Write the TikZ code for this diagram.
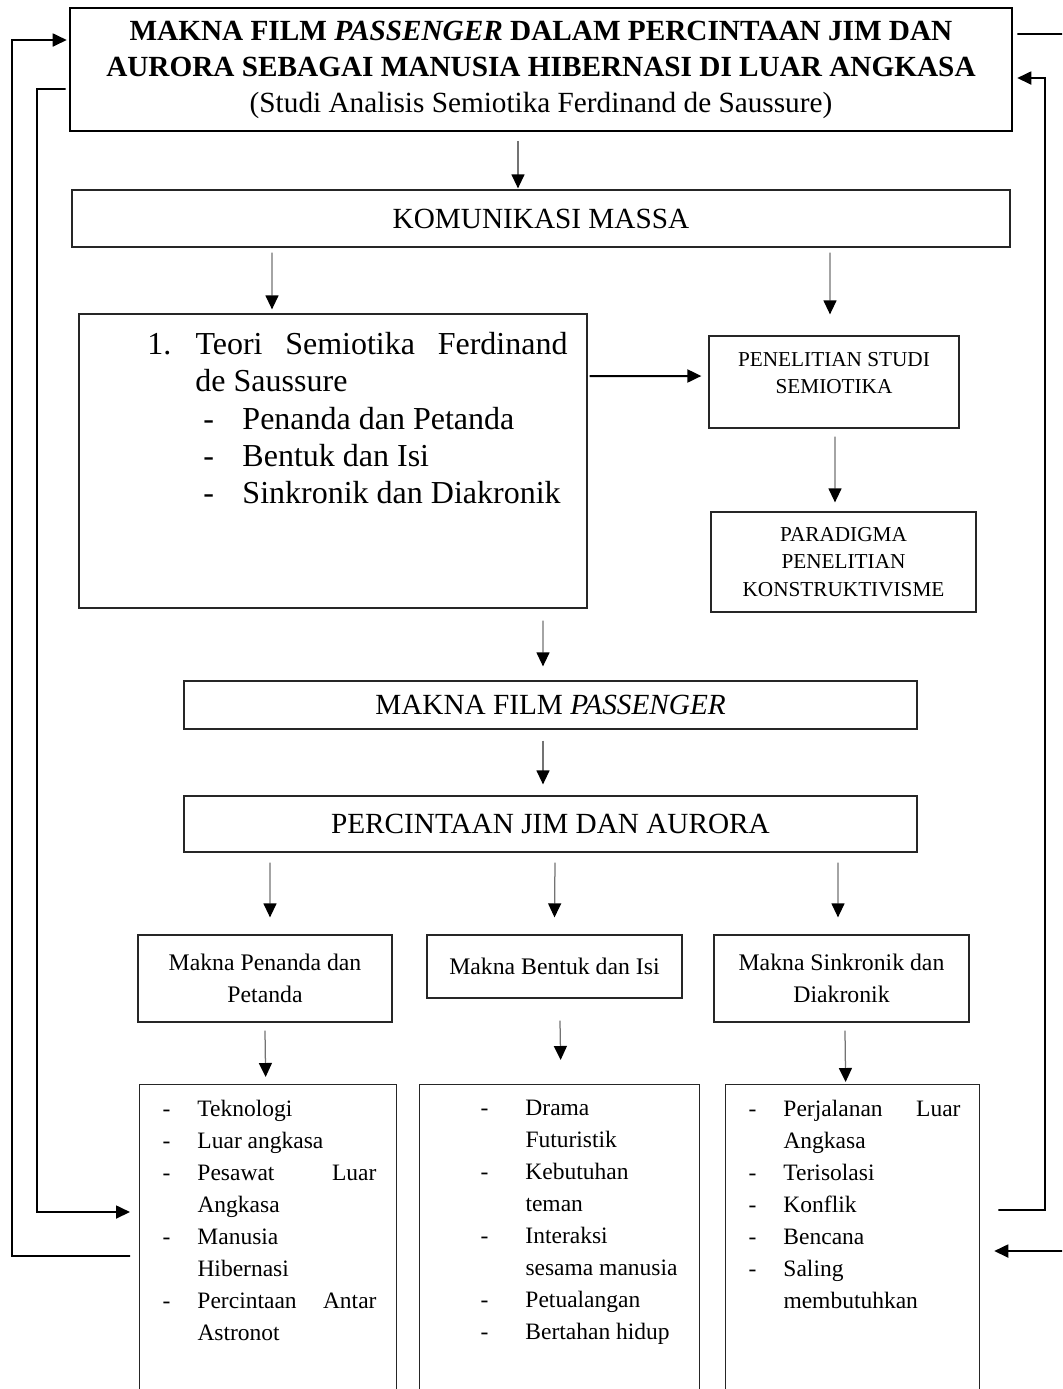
\documentclass[tikz,border=0pt]{standalone}
\usepackage{fontspec}
\setmainfont{Liberation Serif}
\usepackage{tikz}
\usetikzlibrary{positioning,arrows.meta}

\newcommand{\butir}[2][14pt]{\makebox[#1][l]{-}#2}

\begin{document}
\begin{tikzpicture}[
		x=0.4pt, y=-0.4pt,
		>={Triangle[length=5.6pt, width=5.2pt, color=black, fill=black]},
		kotak/.style = {draw=black!85, line width=0.5pt, rectangle, inner sep=0pt, align=center},
		teks/.style = {inner sep=0pt, align=left, anchor=north west},
		panah/.style = {draw=black!55, line width=0.5pt, ->},
		balik/.style = {draw=black, line width=0.7pt, ->},
		besar/.style = {font=\fontsize{11.7pt}{14.4pt}\selectfont},
		sedang/.style = {font=\fontsize{9.5pt}{12.8pt}\selectfont},
		kecil/.style = {font=\fontsize{8.5pt}{11pt}\selectfont},
		daftar/.style = {teks, font=\fontsize{9.4pt}{12.8pt}\selectfont}
	]

	\useasboundingbox (0,0) rectangle (1062,1389);
	\clip (0,0) rectangle (1062,1389);

	% Kotak
	\node [kotak, besar, line width=1pt, draw=black, minimum width=376.8pt, minimum height=49.2pt] (judul) at (541,69.5) {\textbf{MAKNA FILM \textit{PASSENGER} DALAM PERCINTAAN JIM DAN}\\ \textbf{AURORA SEBAGAI MANUSIA HIBERNASI DI LUAR ANGKASA}\\ (Studi Analisis Semiotika Ferdinand de Saussure)};
	\node [kotak, besar, minimum width=375.2pt, minimum height=22.8pt] (komunikasi) at (541,218.5) {KOMUNIKASI MASSA};
	\node [kotak, minimum width=203.2pt, minimum height=117.6pt] (teori) at (333,461) {};
	\node [teks, font=\fontsize{12.8pt}{14.9pt}\selectfont] (teoriisi) at (147,332) {\makebox[19.2pt][l]{1.}\makebox[148.8pt][s]{Teori Semiotika Ferdinand}\\
		\hspace*{19.2pt}de Saussure\\
		\hspace*{22.4pt}\butir[15.6pt]{Penanda dan Petanda}\\
		\hspace*{22.4pt}\butir[15.6pt]{Bentuk dan Isi}\\
		\hspace*{22.4pt}\butir[15.6pt]{Sinkronik dan Diakronik}};
	\node [kotak, minimum width=100pt, minimum height=36.8pt] (penelitian) at (834,382) {};
	\node [kecil, align=center, inner sep=0pt] (penelitianisi) at (834,373) {PENELITIAN STUDI\\SEMIOTIKA};
	\node [kotak, kecil, minimum width=106pt, minimum height=40pt] (paradigma) at (843.5,562) {PARADIGMA\\PENELITIAN\\KONSTRUKTIVISME};
	\node [kotak, besar, minimum width=293.2pt, minimum height=19.2pt] (maknafilm) at (550.5,705) {MAKNA FILM \textit{PASSENGER}};
	\node [kotak, besar, minimum width=293.2pt, minimum height=22.4pt] (percintaan) at (550.5,824) {PERCINTAAN JIM DAN AURORA};
	\node [kotak, sedang, minimum width=101.6pt, minimum height=34.8pt] (penanda) at (265,978.5) {Makna Penanda dan\\Petanda};
	\node [kotak, sedang, minimum width=102pt, minimum height=25.2pt] (bentuk) at (554.5,966.5) {Makna Bentuk dan Isi};
	\node [kotak, sedang, minimum width=102pt, minimum height=34.8pt] (sinkronik) at (841.5,978.5) {Makna Sinkronik dan\\Diakronik};
	\node [kotak, anchor=north west, minimum width=102.8pt, minimum height=160pt] (daftarA) at (139,1084) {};
	\node [kotak, anchor=north west, minimum width=112pt, minimum height=160pt] (daftarB) at (419,1084) {};
	\node [kotak, anchor=north west, minimum width=101.6pt, minimum height=160pt] (daftarC) at (725,1084) {};
	\node [daftar] (daftarAisi) at (162,1100) {\butir{Teknologi}\\
		\butir{Luar angkasa}\\
		\butir{\makebox[71.6pt][s]{Pesawat Luar}}\\
		\hspace*{14pt}Angkasa\\
		\butir{Manusia}\\
		\hspace*{14pt}Hibernasi\\
		\butir{\makebox[71.6pt][s]{Percintaan Antar}}\\
		\hspace*{14pt}Astronot};
	\node [daftar] (daftarBisi) at (480,1100) {\butir[18pt]{Drama}\\
		\hspace*{18pt}Futuristik\\
		\butir[18pt]{Kebutuhan}\\
		\hspace*{18pt}teman\\
		\butir[18pt]{Interaksi}\\
		\hspace*{18pt}sesama manusia\\
		\butir[18pt]{Petualangan}\\
		\butir[18pt]{Bertahan hidup}};
	\node [daftar] (daftarCisi) at (748,1100) {\butir{\makebox[70.8pt][s]{Perjalanan Luar}}\\
		\hspace*{14pt}Angkasa\\
		\butir{Terisolasi}\\
		\butir{Konflik}\\
		\butir{Bencana}\\
		\butir{Saling}\\
		\hspace*{14pt}membutuhkan};

	% Panah
	\draw [panah] ([xshift=-9.2pt, yshift=-3.4pt]judul.south) -- ([xshift=-9.2pt, yshift=0.4pt]komunikasi.north);
	\draw [panah] ([xshift=-107.6pt, yshift=-2pt]komunikasi.south) -- ([xshift=-24.4pt, yshift=1.6pt]teori.north);
	\draw [panah] ([xshift=115.6pt, yshift=-2pt]komunikasi.south) -- ([xshift=-1.6pt, yshift=8.4pt]penelitian.north);
	\draw [panah, draw=black, line width=0.8pt] ([xshift=0.8pt, yshift=34pt]teori.east) -- ([xshift=-2.8pt, yshift=2.4pt]penelitian.west);
	\draw [panah] ([xshift=0.4pt, yshift=-3.2pt]penelitian.south) -- ([xshift=-3.4pt, yshift=3.6pt]paradigma.north);
	\draw [panah] ([xshift=84pt, yshift=-4.8pt]teori.south) -- ([xshift=-3pt, yshift=5.6pt]maknafilm.north);
	\draw [panah] ([xshift=-3pt, yshift=-4.4pt]maknafilm.south) -- ([xshift=-3pt, yshift=4.4pt]percintaan.north);
	\draw [panah] ([xshift=-112.2pt, yshift=-4pt]percintaan.south) -- ([xshift=2pt, yshift=6.8pt]penanda.north);
	\draw [panah] ([xshift=1.8pt, yshift=-4pt]percintaan.south) -- ([yshift=6.8pt]bentuk.north);
	\draw [panah] ([xshift=115pt, yshift=-4pt]percintaan.south) -- ([xshift=-1.4pt, yshift=6.8pt]sinkronik.north);
	\draw [panah] ([yshift=-3.2pt]penanda.south) -- ([xshift=-1pt, yshift=2.8pt]daftarA.north);
	\draw [panah] ([xshift=2.2pt, yshift=-8.8pt]bentuk.south) -- ([xshift=0.4pt, yshift=9.6pt]daftarB.north);
	\draw [panah] ([xshift=1.4pt, yshift=-3.2pt]sinkronik.south) -- ([xshift=-2.8pt, yshift=0.8pt]daftarC.north);

	% Garis balik
	\coordinate (sudutA) at (12,40);
	\coordinate (sudutB) at (37,1212);
	\coordinate (sudutC) at (1045,78);
	\coordinate (sudutD) at (1075,1251);
	\draw [balik] ([xshift=-3.6pt, yshift=-68.8pt]daftarA.north west) -| (sudutA) -- ([xshift=-0.8pt, yshift=11.8pt]judul.west);
	\draw [balik] ([xshift=-1.2pt, yshift=-7.8pt]judul.west) -| (sudutB) -- ([xshift=-3.6pt, yshift=-51.2pt]daftarA.north west);
	\draw [balik] ([xshift=7.2pt, yshift=-50.4pt]daftarC.north east) -| (sudutC) -- ([xshift=1.6pt, yshift=-3.4pt]judul.east);
	\draw [balik] ([xshift=1.6pt, yshift=14.2pt]judul.east) -| (sudutD) -- ([xshift=5.6pt, yshift=-66.8pt]daftarC.north east);
\end{tikzpicture}
\end{document}
